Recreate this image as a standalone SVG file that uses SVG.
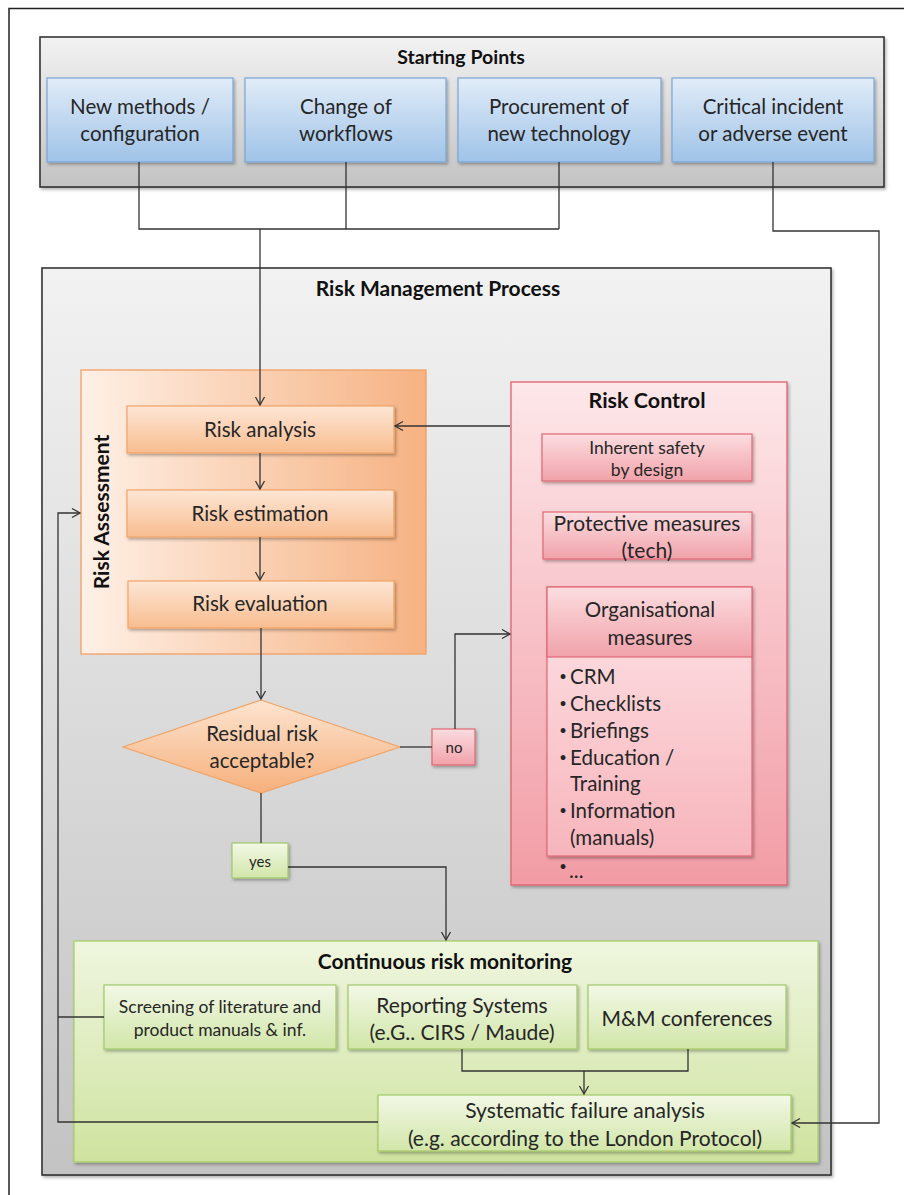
<svg xmlns="http://www.w3.org/2000/svg" width="904" height="1195" viewBox="0 0 904 1195">
<defs>
<linearGradient id="gGray" x1="0" y1="0" x2="0" y2="1"><stop offset="0" stop-color="#f2f2f2"/><stop offset="1" stop-color="#c3c3c3"/></linearGradient>
<linearGradient id="gBlue" x1="0" y1="0" x2="0" y2="1"><stop offset="0" stop-color="#e1ecf8"/><stop offset="1" stop-color="#9fc3e8"/></linearGradient>
<linearGradient id="gOrgOuter" x1="0" y1="0" x2="1" y2="0"><stop offset="0" stop-color="#fef0e6"/><stop offset="1" stop-color="#f6b282"/></linearGradient>
<linearGradient id="gOrange" x1="0" y1="0" x2="0" y2="1"><stop offset="0" stop-color="#fde6d5"/><stop offset="1" stop-color="#f8bd90"/></linearGradient>
<linearGradient id="gDiamond" x1="0" y1="0" x2="0" y2="1"><stop offset="0" stop-color="#fde4d0"/><stop offset="1" stop-color="#f6b07c"/></linearGradient>
<linearGradient id="gPinkOuter" x1="0" y1="0" x2="0" y2="1"><stop offset="0" stop-color="#fde7e9"/><stop offset="1" stop-color="#f29ca5"/></linearGradient>
<linearGradient id="gPink" x1="0" y1="0" x2="0" y2="1"><stop offset="0" stop-color="#fbdde0"/><stop offset="1" stop-color="#f1a2aa"/></linearGradient>
<linearGradient id="gPinkList" x1="0" y1="0" x2="0" y2="1"><stop offset="0" stop-color="#fde3e6"/><stop offset="1" stop-color="#f7b5bc"/></linearGradient>
<linearGradient id="gGreenOuter" x1="0" y1="0" x2="0" y2="1"><stop offset="0" stop-color="#eff6df"/><stop offset="1" stop-color="#cfe39f"/></linearGradient>
<linearGradient id="gGreen" x1="0" y1="0" x2="0" y2="1"><stop offset="0" stop-color="#f2f8e6"/><stop offset="1" stop-color="#d2e6a9"/></linearGradient>
<filter id="sh" x="-10%" y="-10%" width="120%" height="130%"><feDropShadow dx="1.5" dy="2" stdDeviation="1.5" flood-color="#000" flood-opacity="0.3"/></filter>
<marker id="arr" markerUnits="userSpaceOnUse" markerWidth="12" markerHeight="12" refX="10" refY="6" orient="auto"><path d="M2,1.5 L10,6 L2,10.5" fill="none" stroke="#333" stroke-width="1.3"/></marker>
<style>
text{font-family:Lato,"Liberation Sans",sans-serif;fill:#262626;text-anchor:middle;dominant-baseline:central}
.t{font-weight:bold;fill:#111}
.b{font-size:20.5px}
.s{font-size:15px}
.l{text-anchor:start;font-size:20.5px}
.bu{text-anchor:middle;font-size:13px}
.m{font-size:20.5px}
.conn path{fill:none;stroke:#333;stroke-width:1.3}
.gray{fill:url(#gGray);stroke:#2a2a2a;stroke-width:1.5}
.blue{fill:url(#gBlue);stroke:#7aa6d6;stroke-width:1.2}
.orange{fill:url(#gOrange);stroke:#f2a366;stroke-width:1.2}
.pink{fill:url(#gPink);stroke:#df6876;stroke-width:1.2}
.green{fill:url(#gGreen);stroke:#a3c968;stroke-width:1.2}
</style>
</defs>
<rect width="904" height="1195" fill="#ffffff"/>
<path d="M9,1195 V8.5 H904" fill="none" stroke="#222" stroke-width="1.5"/>

<g id="starting-points">
<rect x="40" y="37" width="844" height="150" class="gray" filter="url(#sh)"/>
<text x="461" y="56" class="t" font-size="19.5">Starting Points</text>
</g>
<g id="new-methods"><rect x="47" y="78" width="186" height="84" class="blue" filter="url(#sh)"/><text x="140" y="106" class="b">New methods /</text><text x="140" y="133" class="b">configuration</text></g>
<g id="change-workflows"><rect x="245" y="78" width="201" height="84" class="blue" filter="url(#sh)"/><text x="346" y="106" class="b">Change of</text><text x="346" y="133" class="b">workflows</text></g>
<g id="procurement"><rect x="458" y="78" width="203" height="84" class="blue" filter="url(#sh)"/><text x="559" y="106" class="b">Procurement of</text><text x="559" y="133" class="b">new technology</text></g>
<g id="critical-incident"><rect x="672" y="78" width="202" height="84" class="blue" filter="url(#sh)"/><text x="773" y="106" class="b">Critical incident</text><text x="773" y="133" class="b">or adverse event</text></g>

<g id="risk-management-process">
<rect x="42" y="268" width="789" height="907" class="gray" filter="url(#sh)"/>
<text x="438" y="287" class="t" font-size="21">Risk Management Process</text>
</g>

<g id="risk-assessment">
<rect x="81" y="370" width="345" height="284" fill="url(#gOrgOuter)" stroke="#f2a062" stroke-width="1.3"/>
<text transform="translate(100,512) rotate(-90)" class="t" font-size="21">Risk Assessment</text>
</g>
<g id="risk-analysis"><rect x="127" y="406" width="267" height="47" class="orange" filter="url(#sh)"/><text x="260" y="429" class="b">Risk analysis</text></g>
<g id="risk-estimation"><rect x="127" y="490" width="267" height="47" class="orange" filter="url(#sh)"/><text x="260" y="513" class="b">Risk estimation</text></g>
<g id="risk-evaluation"><rect x="128" y="581" width="266" height="47" class="orange" filter="url(#sh)"/><text x="260" y="603" class="b">Risk evaluation</text></g>
<g id="residual-risk"><polygon points="261,700 400,747 261,793 123,747" fill="url(#gDiamond)" stroke="#f2a366" stroke-width="1.2"/><text x="262" y="733" class="b">Residual risk</text><text x="262" y="760" class="b">acceptable?</text></g>
<g id="no"><rect x="432" y="729" width="43" height="36" class="pink" filter="url(#sh)"/><text x="454" y="747" class="s">no</text></g>
<g id="yes"><rect x="232" y="843" width="56" height="35" class="green" filter="url(#sh)"/><text x="260" y="861" class="s">yes</text></g>

<g id="risk-control">
<rect x="511" y="382" width="276" height="503" fill="url(#gPinkOuter)" stroke="#e06070" stroke-width="1.3" filter="url(#sh)"/>
<text x="647" y="400" class="t" font-size="21.5">Risk Control</text>
</g>
<g id="inherent-safety"><rect x="542" y="434" width="210" height="47" class="pink" filter="url(#sh)"/><text x="647" y="447" font-size="17.5">Inherent safety</text><text x="647" y="469" font-size="17.5">by design</text></g>
<g id="protective-measures"><rect x="543" y="512" width="209" height="47" class="pink" filter="url(#sh)"/><text x="647" y="522" font-size="21">Protective measures</text><text x="647" y="549" font-size="21">(tech)</text></g>
<g id="organisational-measures">
<rect x="547" y="587" width="205" height="269" fill="url(#gPinkList)" stroke="#df6876" stroke-width="1.2" filter="url(#sh)"/>
<rect x="547" y="587" width="205" height="70" class="pink"/>
<text x="650" y="609" class="b">Organisational</text><text x="650" y="637" class="b">measures</text>
<text x="563" y="676" class="bu">•</text><text x="570" y="676" class="l">CRM</text>
<text x="563" y="703" class="bu">•</text><text x="570" y="703" class="l">Checklists</text>
<text x="563" y="730" class="bu">•</text><text x="570" y="730" class="l">Briefings</text>
<text x="563" y="757" class="bu">•</text><text x="570" y="757" class="l">Education /</text>
<text x="570" y="783" class="l">Training</text>
<text x="563" y="810" class="bu">•</text><text x="570" y="810" class="l">Information</text>
<text x="570" y="837" class="l">(manuals)</text>
<text x="563" y="866" class="bu">•</text><text x="569" y="870" class="l" font-size="14">...</text>
</g>

<g id="continuous-risk-monitoring">
<rect x="74" y="941" width="744" height="221" fill="url(#gGreenOuter)" stroke="#a9cf6c" stroke-width="1.3" filter="url(#sh)"/>
<text x="445" y="960" class="t" font-size="21">Continuous risk monitoring</text>
</g>
<g id="screening"><rect x="104" y="985" width="232" height="64" class="green" filter="url(#sh)"/><text x="220" y="1006" font-size="17.5">Screening of literature and</text><text x="220" y="1029" font-size="17.5">product  manuals &amp; inf.</text></g>
<g id="reporting-systems"><rect x="348" y="985" width="229" height="64" class="green" filter="url(#sh)"/><text x="462" y="1004" font-size="21">Reporting Systems</text><text x="462" y="1031" font-size="21">(e.G.. CIRS / Maude)</text></g>
<g id="mm-conferences"><rect x="588" y="985" width="198" height="64" class="green" filter="url(#sh)"/><text x="687" y="1017" font-size="21">M&amp;M conferences</text></g>
<g id="systematic-failure-analysis"><rect x="378" y="1095" width="413" height="56" class="green" filter="url(#sh)"/><text x="585" y="1109" font-size="21">Systematic failure analysis</text><text x="585" y="1137" font-size="21">(e.g. according to the London Protocol)</text></g>

<g class="conn" id="connectors">
<path d="M139,162 V229 H559 M346,162 V229 M559,162 V229"/>
<path d="M260,229 V405" marker-end="url(#arr)"/>
<path d="M773,162 V231 H879 V1123 H792" marker-end="url(#arr)"/>
<path d="M260,453 V489" marker-end="url(#arr)"/>
<path d="M260,537 V580" marker-end="url(#arr)"/>
<path d="M261,628 V699" marker-end="url(#arr)"/>
<path d="M510,426 H395" marker-end="url(#arr)"/>
<path d="M400,747 H432"/>
<path d="M455,729 V634 H510" marker-end="url(#arr)"/>
<path d="M261,793 V843"/>
<path d="M288,867 H446 V940" marker-end="url(#arr)"/>
<path d="M462,1049 V1071 H688 V1049"/>
<path d="M584,1071 V1094" marker-end="url(#arr)"/>
<path d="M378,1122 H58 V513 H80" marker-end="url(#arr)"/>
<path d="M104,1017 H58"/>
</g>
</svg>
